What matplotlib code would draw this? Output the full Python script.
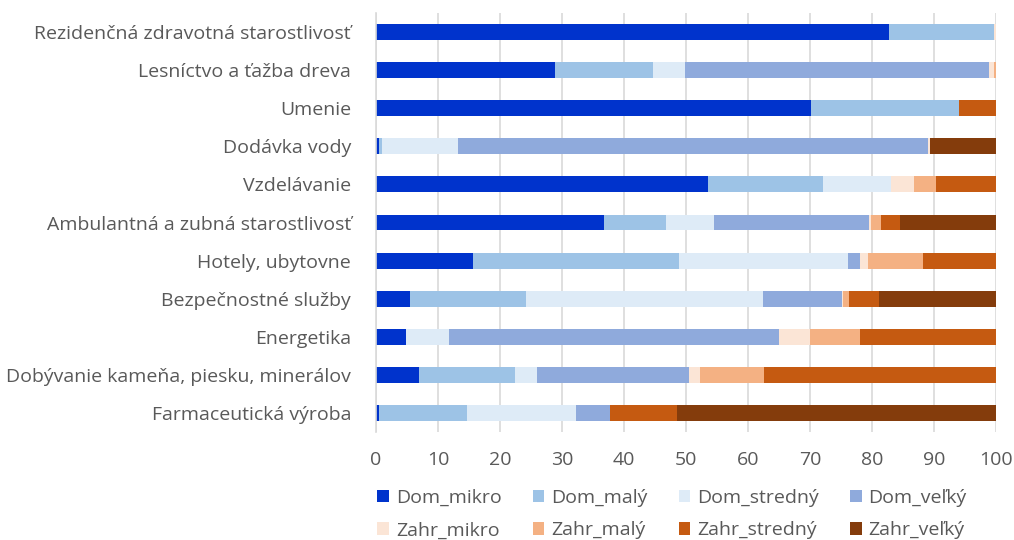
import numpy as np
import matplotlib.pyplot as plt
from matplotlib.patches import Patch

plt.rcParams['font.family'] = ['Open Sans', 'DejaVu Sans']

categories = ["Rezidenčná zdravotná starostlivosť", "Lesníctvo a ťažba dreva", "Umenie",
              "Dodávka vody", "Vzdelávanie", "Ambulantná a zubná starostlivosť",
              "Hotely, ubytovne", "Bezpečnostné služby", "Energetika",
              "Dobývanie kameňa, piesku, minerálov", "Farmaceutická výroba"]

series = ["Dom_mikro", "Dom_malý", "Dom_stredný", "Dom_veľký",
          "Zahr_mikro", "Zahr_malý", "Zahr_stredný", "Zahr_veľký"]

dom_mikro   = [82.7, 28.8, 70.1, 0.5, 53.5, 36.8, 15.6, 5.5, 4.8, 6.9, 0.5]
dom_maly    = [16.9, 15.9, 24.0, 0.5, 18.6, 9.9, 33.3, 18.7, 0.0, 15.5, 14.2]
dom_stredny = [0.0, 5.2, 0.0, 12.2, 11.0, 7.8, 27.3, 38.2, 7.0, 3.5, 17.6]
dom_velky   = [0.0, 48.9, 0.0, 75.9, 0.0, 25.0, 1.9, 12.7, 53.2, 24.6, 5.4]
zahr_mikro  = [0.4, 0.8, 0.0, 0.2, 3.7, 0.3, 1.3, 0.3, 5.0, 1.7, 0.0]
zahr_maly   = [0.0, 0.4, 0.0, 0.0, 3.6, 1.6, 8.8, 0.9, 8.1, 10.3, 0.0]
zahr_stredny = [0.0, 0.0, 5.9, 0.0, 9.6, 3.1, 11.8, 4.9, 21.9, 37.5, 10.9]
zahr_velky  = [0.0, 0.0, 0.0, 10.7, 0.0, 15.5, 0.0, 18.8, 0.0, 0.0, 51.4]

colors = ["#0033cc", "#9dc3e6", "#deebf7", "#8faadc",
          "#fbe5d6", "#f4b183", "#c55a11", "#843c0c"]

data = [dom_mikro, dom_maly, dom_stredny, dom_velky,
        zahr_mikro, zahr_maly, zahr_stredny, zahr_velky]

fig = plt.figure(figsize=(10.14, 5.40), dpi=100)
ax = fig.add_axes([376 / 1014, 1 - 432 / 540, 620 / 1014, 419 / 540])

y = np.arange(len(categories))[::-1]
left = np.zeros(len(categories))
for name, vals, c in zip(series, data, colors):
    vals = np.array(vals)
    ax.barh(y, vals, left=left, height=0.42, color=c, label=name, linewidth=0)
    left += vals

ax.set_xlim(0, 100)
ax.set_ylim(-0.5, len(categories) - 0.5)
ax.set_xticks(range(0, 101, 10))
ax.set_yticks(y)
ax.set_yticklabels(categories)
ax.grid(axis='x', color='#d9d9d9', linewidth=1.2)
ax.set_axisbelow(True)
for s in ['top', 'right', 'bottom']:
    ax.spines[s].set_visible(False)
ax.spines['left'].set_color('#d9d9d9')
ax.spines['left'].set_linewidth(1.2)
ax.tick_params(axis='both', length=0, colors='#595959', labelsize=14)
ax.tick_params(axis='x', pad=14)
ax.tick_params(axis='y', pad=18)

# legend fills column by column, so interleave Dom/Zahr to get rows
order = [0, 4, 1, 5, 2, 6, 3, 7]
handles = [Patch(facecolor=colors[i], label=series[i]) for i in order]
fig.legend(handles=handles, ncol=4, loc='center', bbox_to_anchor=(672 / 1014, 1 - 514 / 540),
           frameon=False, fontsize=14, labelcolor='#595959', handlelength=0.6,
           handleheight=0.6, handletextpad=0.35, columnspacing=1.6, labelspacing=0.75)

fig.savefig("out.png", dpi=100)
